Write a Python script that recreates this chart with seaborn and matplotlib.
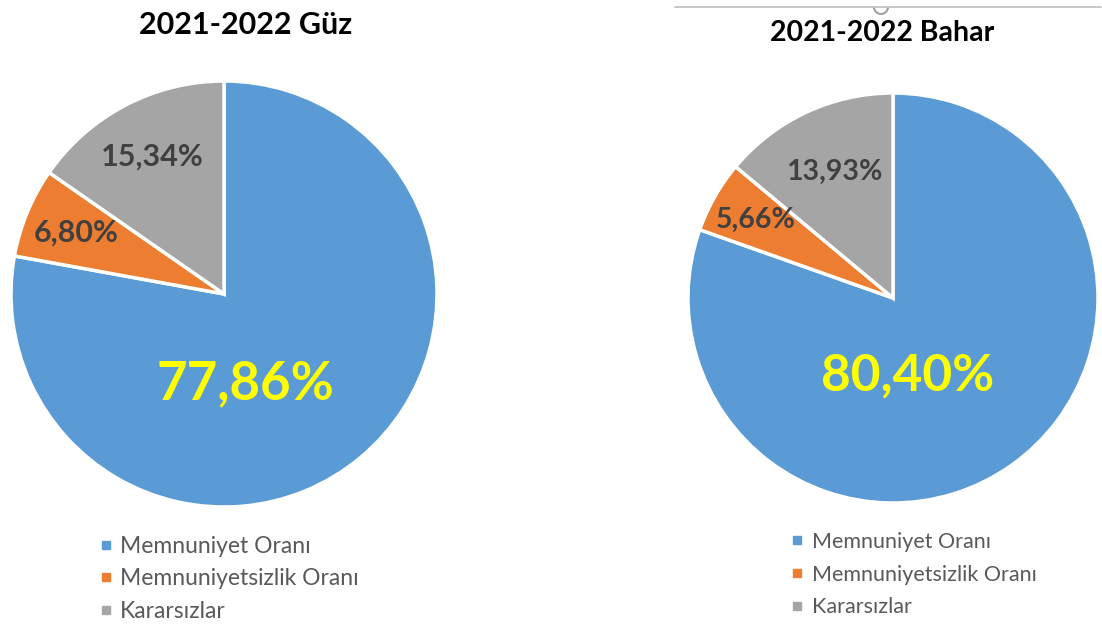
import matplotlib.pyplot as plt
import numpy as np
import seaborn as sns
from matplotlib.lines import Line2D
from matplotlib.patches import Arc

sns.set_theme(style="white")
plt.rcParams['font.family'] = ['Lato', 'DejaVu Sans']

categories = ['Memnuniyet Oranı', 'Memnuniyetsizlik Oranı', 'Kararsızlar']
titles = ['2021-2022 Güz', '2021-2022 Bahar']
guz = [77.86, 6.80, 15.34]
bahar = [80.40, 5.66, 13.93]
colors = ['#5B9BD5', '#ED7D31', '#A5A5A5']

fig = plt.figure(figsize=(11.02, 6.24), dpi=100)

# axes rectangles in figure fraction (pie center / radius in px)
W, H = 1102, 624
def rect(cx, cy, r):
    return [(cx - r) / W, 1 - (cy + r) / H, 2 * r / W, 2 * r / H]

setups = [
    dict(vals=guz, title=titles[0], r=rect(224, 294, 213), dist=(0.73, 0.75), big=(0.1, -0.42),
         tx=246, ty=0.040, tfs=22, lfs=22, bfs=38, leg=(0.088, 0.141), legfs=16.5, pad=0.2, ls=0.5),
    dict(vals=bahar, title=titles[1], r=rect(893, 298, 205), dist=(0.68, 0.77), big=(0.07, -0.38),
         tx=882, ty=0.0535, tfs=20.5, lfs=20.5, bfs=37, leg=(0.7154, 0.148), legfs=15.5, pad=0.3, ls=0.6),
]

for s in setups:
    vals, r = s['vals'], s['r']
    ax = fig.add_axes(r)
    wedges, _ = ax.pie(vals, colors=colors, startangle=90, counterclock=False,
                       wedgeprops=dict(edgecolor='white', linewidth=2.5))
    ax.set_xlim(-1, 1)
    ax.set_ylim(-1, 1)
    ax.set_aspect('equal')
    # slice labels
    dg, do = s['dist']
    for w, v, d in zip(wedges[1:], vals[1:], (do, dg)):
        ang = np.deg2rad((w.theta1 + w.theta2) / 2)
        ax.text(d * np.cos(ang), d * np.sin(ang), f'{v:.2f}%'.replace('.', ','),
                ha='center', va='center', fontsize=s['lfs'], fontweight='bold', color='#404040')
    ax.text(s['big'][0], s['big'][1], f'{vals[0]:.2f}%'.replace('.', ','),
            ha='center', va='center', fontsize=s['bfs'], fontweight='bold', color='#FFFF00')
    fig.text(s['tx'] / W, 1 - s['ty'], s['title'], ha='center', va='center',
             fontsize=s['tfs'], fontweight='bold', color='black')
    handles = [Line2D([0], [0], marker='s', linestyle='', markersize=6,
                      markerfacecolor=c, markeredgecolor=c) for c in colors]
    leg = fig.legend(handles, categories, loc='upper left', bbox_to_anchor=s['leg'],
                     bbox_transform=fig.transFigure, frameon=False, fontsize=s['legfs'],
                     handlelength=0.8, handletextpad=s['pad'], labelspacing=s['ls'],
                     borderpad=0, borderaxespad=0)
    for t in leg.get_texts():
        t.set_color('#595959')

# selection frame artifact at the top right
fig.add_artist(Line2D([675 / W, 1 - 1 / W], [1 - 7 / H, 1 - 7 / H], color='#BFBFBF',
                      linewidth=1.2, transform=fig.transFigure))
fig.add_artist(Arc((881 / W, 1 - 7 / H), 14 / W, 14 / H, theta1=180, theta2=360,
                   color='#A0A0A0', linewidth=1.5, transform=fig.transFigure))

fig.savefig('out.png', dpi=100, facecolor='white')
